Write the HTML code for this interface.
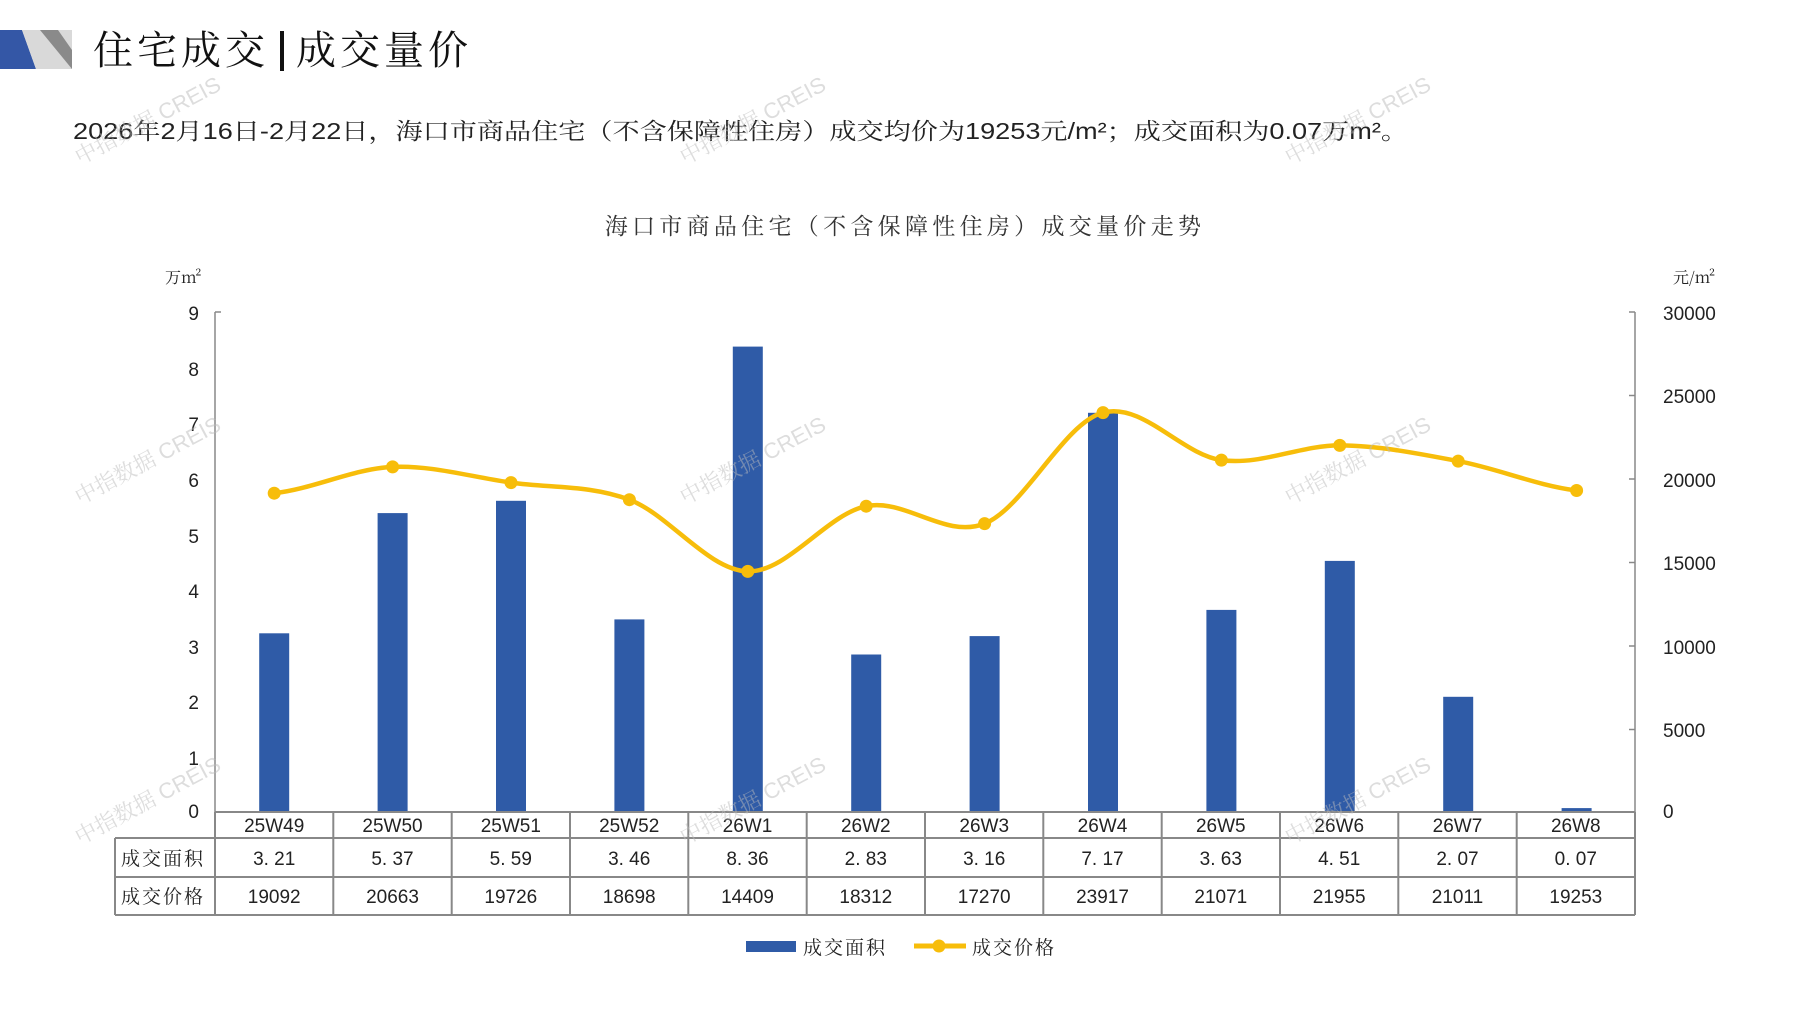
<!DOCTYPE html>
<html><head><meta charset="utf-8"><style>
html,body{margin:0;padding:0;background:#fff;}
svg text{font-family:"Liberation Sans","Noto Serif CJK SC",serif;}
.cjk{font-family:"Noto Serif CJK SC","Noto Sans CJK SC",serif;}
</style></head><body>
<svg width="1797" height="1010" viewBox="0 0 1797 1010" xmlns="http://www.w3.org/2000/svg">
<rect width="1797" height="1010" fill="#fff"/>
<polygon points="0,30 22,30 36,69 0,69" fill="#3457a6"/>
<polygon points="22,30 72,30 72,69 36,69" fill="#d9d9d9"/>
<polygon points="40,30 58,30 72,50 72,69" fill="#8a8a8a"/>
<text x="93" y="64" font-size="40" class="cjk" fill="#111" letter-spacing="4">住宅成交</text>
<rect x="280" y="31" width="4" height="40" fill="#111"/>
<text x="296" y="64" font-size="40" class="cjk" fill="#111" letter-spacing="4">成交量价</text>
<text x="73" y="139" font-size="23" fill="#222" textLength="1335" lengthAdjust="spacingAndGlyphs">2026年2月16日-2月22日，海口市商品住宅（不含保障性住房）成交均价为19253元/m²；成交面积为0.07万m²。</text>
<text x="905" y="234" font-size="23" text-anchor="middle" class="cjk" fill="#333" letter-spacing="4.3">海口市商品住宅（不含保障性住房）成交量价走势</text>
<text x="165" y="283" font-size="16" class="cjk" fill="#222">万m²</text>
<text x="1673" y="283" font-size="16" class="cjk" fill="#222">元/m²</text>
<g stroke="#888" stroke-width="1.5">
<line x1="215" y1="312" x2="215" y2="812"/>
<line x1="1635" y1="312" x2="1635" y2="812"/>
<line x1="215" y1="312" x2="221" y2="312"/>
<line x1="1629" y1="312" x2="1635" y2="312"/>
<line x1="1629" y1="395.5" x2="1635" y2="395.5"/>
<line x1="1629" y1="479" x2="1635" y2="479"/>
<line x1="1629" y1="562.5" x2="1635" y2="562.5"/>
<line x1="1629" y1="646" x2="1635" y2="646"/>
<line x1="1629" y1="729.5" x2="1635" y2="729.5"/>
</g>
<g font-size="19" fill="#222" text-anchor="end">
<text x="199" y="320">9</text><text x="199" y="376">8</text><text x="199" y="431">7</text>
<text x="199" y="487">6</text><text x="199" y="543">5</text><text x="199" y="598">4</text>
<text x="199" y="654">3</text><text x="199" y="709">2</text><text x="199" y="765">1</text>
<text x="199" y="818">0</text>
</g>
<g font-size="19" fill="#222">
<text x="1663" y="320">30000</text><text x="1663" y="403">25000</text><text x="1663" y="487">20000</text>
<text x="1663" y="570">15000</text><text x="1663" y="654">10000</text><text x="1663" y="737">5000</text>
<text x="1663" y="818">0</text>
</g>
<g transform="translate(-4,-3)">
<g fill="#2f5ba7">
<rect x="263.2" y="636.3" width="30" height="178.7"/>
<rect x="381.6" y="516.1" width="30" height="298.9"/>
<rect x="500" y="503.8" width="30" height="311.2"/>
<rect x="618.4" y="622.4" width="30" height="192.6"/>
<rect x="736.8" y="349.6" width="30" height="465.4"/>
<rect x="855.2" y="657.5" width="30" height="157.5"/>
<rect x="973.6" y="639.1" width="30" height="175.9"/>
<rect x="1092" y="415.8" width="30" height="399.2"/>
<rect x="1210.4" y="612.9" width="30" height="202.1"/>
<rect x="1328.8" y="563.9" width="30" height="251.1"/>
<rect x="1447.2" y="699.8" width="30" height="115.2"/>
<rect x="1565.6" y="811.1" width="30" height="3.9"/>
</g>
<path d="M278.2,496.2 C317.7,491.8 357.1,471.7 396.6,469.9 C436.1,468.1 475.5,480.1 515,485.6 C554.5,491.1 593.9,487.9 633.4,502.7 C672.9,517.5 712.3,573.3 751.8,574.4 C791.3,575.5 830.7,517.2 870.2,509.2 C909.7,501.2 949.1,542.2 988.6,526.6 C1028.1,511.0 1067.5,426.2 1107,415.6 C1146.5,405.0 1185.9,457.6 1225.4,463.1 C1264.9,468.6 1304.3,448.2 1343.8,448.4 C1383.3,448.6 1422.7,456.6 1462.2,464.1 C1501.7,471.6 1541.1,488.6 1580.6,493.5" fill="none" stroke="#f7bd0a" stroke-width="4.5"/>
<g fill="#f7bd0a">
<circle cx="278.2" cy="496.2" r="6.5"/><circle cx="396.6" cy="469.9" r="6.5"/><circle cx="515" cy="485.6" r="6.5"/>
<circle cx="633.4" cy="502.7" r="6.5"/><circle cx="751.8" cy="574.4" r="6.5"/><circle cx="870.2" cy="509.2" r="6.5"/>
<circle cx="988.6" cy="526.6" r="6.5"/><circle cx="1107" cy="415.6" r="6.5"/><circle cx="1225.4" cy="463.1" r="6.5"/>
<circle cx="1343.8" cy="448.4" r="6.5"/><circle cx="1462.2" cy="464.1" r="6.5"/><circle cx="1580.6" cy="493.5" r="6.5"/>
</g>
</g>
<g stroke="#888" stroke-width="2" fill="none">
<line x1="215" y1="812" x2="1635" y2="812"/>
<line x1="115" y1="838" x2="1635" y2="838"/>
<line x1="115" y1="877" x2="1635" y2="877"/>
<line x1="115" y1="915" x2="1635" y2="915"/>
<line x1="115" y1="838" x2="115" y2="915"/>
<line x1="215" y1="812" x2="215" y2="915"/>
<line x1="333.3" y1="812" x2="333.3" y2="915"/>
<line x1="451.7" y1="812" x2="451.7" y2="915"/>
<line x1="570" y1="812" x2="570" y2="915"/>
<line x1="688.3" y1="812" x2="688.3" y2="915"/>
<line x1="806.7" y1="812" x2="806.7" y2="915"/>
<line x1="925" y1="812" x2="925" y2="915"/>
<line x1="1043.3" y1="812" x2="1043.3" y2="915"/>
<line x1="1161.7" y1="812" x2="1161.7" y2="915"/>
<line x1="1280" y1="812" x2="1280" y2="915"/>
<line x1="1398.3" y1="812" x2="1398.3" y2="915"/>
<line x1="1516.7" y1="812" x2="1516.7" y2="915"/>
<line x1="1635" y1="812" x2="1635" y2="915"/>
</g>
<g font-size="19" fill="#222" text-anchor="middle">
<text x="274.2" y="832">25W49</text><text x="392.5" y="832">25W50</text><text x="510.8" y="832">25W51</text><text x="629.2" y="832">25W52</text><text x="747.5" y="832">26W1</text><text x="865.8" y="832">26W2</text><text x="984.2" y="832">26W3</text><text x="1102.5" y="832">26W4</text><text x="1220.8" y="832">26W5</text><text x="1339.2" y="832">26W6</text><text x="1457.5" y="832">26W7</text><text x="1575.8" y="832">26W8</text>
<text x="274.2" y="865">3. 21</text><text x="392.5" y="865">5. 37</text><text x="510.8" y="865">5. 59</text><text x="629.2" y="865">3. 46</text><text x="747.5" y="865">8. 36</text><text x="865.8" y="865">2. 83</text><text x="984.2" y="865">3. 16</text><text x="1102.5" y="865">7. 17</text><text x="1220.8" y="865">3. 63</text><text x="1339.2" y="865">4. 51</text><text x="1457.5" y="865">2. 07</text><text x="1575.8" y="865">0. 07</text>
<text x="274.2" y="903">19092</text><text x="392.5" y="903">20663</text><text x="510.8" y="903">19726</text><text x="629.2" y="903">18698</text><text x="747.5" y="903">14409</text><text x="865.8" y="903">18312</text><text x="984.2" y="903">17270</text><text x="1102.5" y="903">23917</text><text x="1220.8" y="903">21071</text><text x="1339.2" y="903">21955</text><text x="1457.5" y="903">21011</text><text x="1575.8" y="903">19253</text>
</g>
<g font-size="19" fill="#222" class="cjk">
<text x="121" y="865" letter-spacing="2">成交面积</text>
<text x="121" y="903" letter-spacing="2">成交价格</text>
</g>
<rect x="746" y="941" width="50" height="11" fill="#2f5ba7"/>
<text x="803" y="954" font-size="19" class="cjk" fill="#222" letter-spacing="2">成交面积</text>
<line x1="914" y1="946" x2="966" y2="946" stroke="#f7bd0a" stroke-width="5"/>
<circle cx="939" cy="946" r="6.5" fill="#f7bd0a"/>
<text x="972" y="954" font-size="19" class="cjk" fill="#222" letter-spacing="2">成交价格</text>
<g font-size="22" fill="#bbb" opacity="0.5" class="cjk">
<text transform="translate(80,165) rotate(-28)">中指数据 CREIS</text>
<text transform="translate(685,165) rotate(-28)">中指数据 CREIS</text>
<text transform="translate(1290,165) rotate(-28)">中指数据 CREIS</text>
<text transform="translate(80,505) rotate(-28)">中指数据 CREIS</text>
<text transform="translate(685,505) rotate(-28)">中指数据 CREIS</text>
<text transform="translate(1290,505) rotate(-28)">中指数据 CREIS</text>
<text transform="translate(80,845) rotate(-28)">中指数据 CREIS</text>
<text transform="translate(685,845) rotate(-28)">中指数据 CREIS</text>
<text transform="translate(1290,845) rotate(-28)">中指数据 CREIS</text>
</g>
</svg>
</body></html>
